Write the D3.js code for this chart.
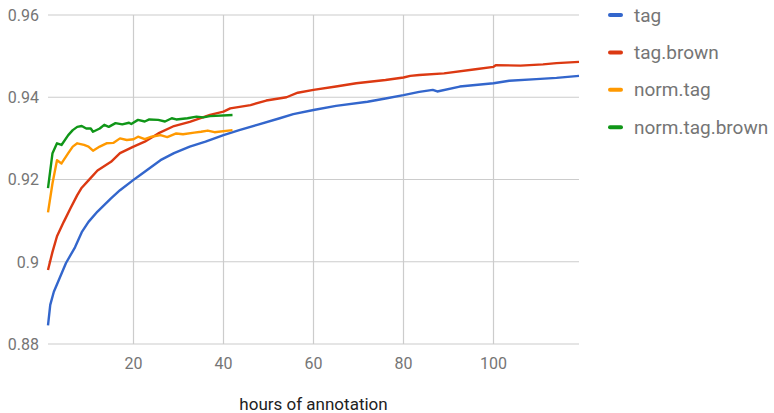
<!DOCTYPE html>
<html>
<head>
<meta charset="utf-8">
<script src="https://cdn.jsdelivr.net/npm/d3@7"></script>
<style>
  body { margin: 0; background: #fff; }
  text { font-family: Roboto, "Noto Sans", sans-serif; }
</style>
</head>
<body>
<svg id="chart" width="774" height="413"></svg>
<script>
var tagHours = [1, 1.5, 2.3, 3.5, 5, 7, 8.5, 10, 12, 15, 17, 20, 21.5, 26, 29, 32.5, 36, 40, 43.5, 47.5, 52.5, 55.5, 60, 65, 72, 76, 80, 83.5, 86.5, 87.5, 92.5, 100, 103.5, 109.5, 114, 119];
var tagValues = [0.8845, 0.8895, 0.8927, 0.8958, 0.8997, 0.9035, 0.9072, 0.9097, 0.9122, 0.9154, 0.9174, 0.9199, 0.9211, 0.9247, 0.9264, 0.928, 0.9292, 0.9308, 0.932, 0.9333, 0.9349, 0.9359, 0.9369, 0.9379, 0.9389, 0.9397, 0.9405, 0.9413, 0.9418, 0.9414, 0.9426, 0.9434, 0.944, 0.9444, 0.9447, 0.9452];

var tagBrownHours = [1, 2, 3, 4.5, 6, 7.5, 8.5, 10, 12, 15, 17, 20, 22.5, 25.5, 29, 32.5, 37, 40, 41.5, 46, 49.5, 54, 56.5, 60, 65, 69.5, 76, 80, 81.5, 83.5, 89, 96, 100, 100.5, 106, 111, 114, 119];
var tagBrownValues = [0.898, 0.9024, 0.9062, 0.9097, 0.913, 0.9162, 0.918, 0.9198, 0.9222, 0.9243, 0.9264, 0.928, 0.9292, 0.9312, 0.933, 0.934, 0.9357, 0.9365, 0.9373, 0.9381, 0.9392, 0.94, 0.9411, 0.9418, 0.9426, 0.9434, 0.9442, 0.9448, 0.9452, 0.9454, 0.9458, 0.9468, 0.9474, 0.9478, 0.9477, 0.948, 0.9483, 0.9486];

var normTagHours = [1, 2, 3, 4, 5.5, 6.5, 7.5, 9, 10, 11, 12.5, 14, 15.5, 17, 18.5, 20, 21, 22.5, 24, 26, 27.5, 29.5, 31, 33.5, 35, 36.5, 38, 42];
var normTagValues = [0.912, 0.9191, 0.9247, 0.9239, 0.9264, 0.928, 0.9288, 0.9284, 0.928, 0.927, 0.928, 0.9288, 0.9289, 0.93, 0.9296, 0.9298, 0.9304, 0.9298, 0.9304, 0.9308, 0.9303, 0.9312, 0.931, 0.9314, 0.9316, 0.9319, 0.9315, 0.932];

var normTagBrownHours = [1, 2, 3, 4, 5.5, 6.5, 7.5, 8.5, 9.5, 10.5, 11, 12.5, 13.5, 14.5, 16, 17.5, 19, 19.5, 21, 22.5, 23.5, 25.5, 27, 28.5, 29.5, 32, 34, 35.5, 37, 42];
var normTagBrownValues = [0.9179, 0.9264, 0.9288, 0.9284, 0.9308, 0.932, 0.9328, 0.933, 0.9324, 0.9324, 0.9316, 0.9324, 0.9333, 0.9328, 0.9337, 0.9334, 0.9338, 0.9335, 0.9345, 0.9341, 0.9346, 0.9345, 0.9341, 0.9349, 0.9346, 0.9349, 0.9353, 0.9351, 0.9354, 0.9357];

var seriesNames = ['tag', 'tag.brown', 'norm.tag', 'norm.tag.brown'];
var xTicks = [20, 40, 60, 80, 100];
var yTicks = [0.88, 0.9, 0.92, 0.94, 0.96];
var xTitle = 'hours of annotation';

var colors = ['#3366cc', '#dc3912', '#ff9900', '#109618'];

var series = [
  {name: seriesNames[0], hours: tagHours, values: tagValues},
  {name: seriesNames[1], hours: tagBrownHours, values: tagBrownValues},
  {name: seriesNames[2], hours: normTagHours, values: normTagValues},
  {name: seriesNames[3], hours: normTagBrownHours, values: normTagBrownValues}
];

var svg = d3.select('#chart');
var plotLeft = 48, plotRight = 579, plotTop = 15, plotBottom = 344;

var x = d3.scaleLinear().domain([1, 119]).range([plotLeft, plotRight]);
var y = d3.scaleLinear().domain([0.88, 0.96]).range([plotBottom, plotTop]);

// grid
svg.append('g')
    .selectAll('line')
    .data(yTicks)
    .enter().append('line')
    .attr('x1', plotLeft)
    .attr('x2', plotRight)
    .attr('y1', d => y(d))
    .attr('y2', d => y(d))
    .attr('stroke', '#cccccc')
    .attr('stroke-width', 1.2);

svg.append('g')
    .selectAll('line')
    .data(xTicks)
    .enter().append('line')
    .attr('x1', d => x(d))
    .attr('x2', d => x(d))
    .attr('y1', plotTop)
    .attr('y2', plotBottom)
    .attr('stroke', '#cccccc')
    .attr('stroke-width', 1.2);

// tick labels
svg.append('g')
    .selectAll('text')
    .data(yTicks)
    .enter().append('text')
    .attr('x', 39)
    .attr('y', d => y(d))
    .attr('dy', '0.36em')
    .attr('text-anchor', 'end')
    .attr('font-size', 16)
    .attr('fill', '#757575')
    .text(d => d3.format('')(d));

svg.append('g')
    .selectAll('text')
    .data(xTicks)
    .enter().append('text')
    .attr('x', d => x(d))
    .attr('y', 369)
    .attr('text-anchor', 'middle')
    .attr('font-size', 16)
    .attr('fill', '#757575')
    .text(d => d);

svg.append('text')
    .attr('x', (plotLeft + plotRight) / 2)
    .attr('y', 410)
    .attr('text-anchor', 'middle')
    .attr('font-size', 17)
    .attr('fill', '#222222')
    .text(xTitle);

// lines
var line = d3.line()
    .x(d => x(d[0]))
    .y(d => y(d[1]));

series.forEach(function(s, i) {
  svg.append('path')
      .datum(d3.zip(s.hours, s.values))
      .attr('d', line)
      .attr('fill', 'none')
      .attr('stroke', colors[i])
      .attr('stroke-width', 2.4)
      .attr('stroke-linejoin', 'round');
});

// legend
var legend = svg.append('g')
    .selectAll('g')
    .data(series)
    .enter().append('g')
    .attr('transform', (d, i) => 'translate(608,' + (15 + i * 37.4) + ')');

legend.append('rect')
    .attr('x', 0)
    .attr('y', -2)
    .attr('width', 15)
    .attr('height', 4)
    .attr('rx', 2)
    .attr('fill', (d, i) => colors[i]);

legend.append('text')
    .attr('x', 26)
    .attr('y', 0)
    .attr('dy', '0.35em')
    .attr('font-size', 19)
    .attr('fill', '#757575')
    .text(d => d.name);
</script>
</body>
</html>
